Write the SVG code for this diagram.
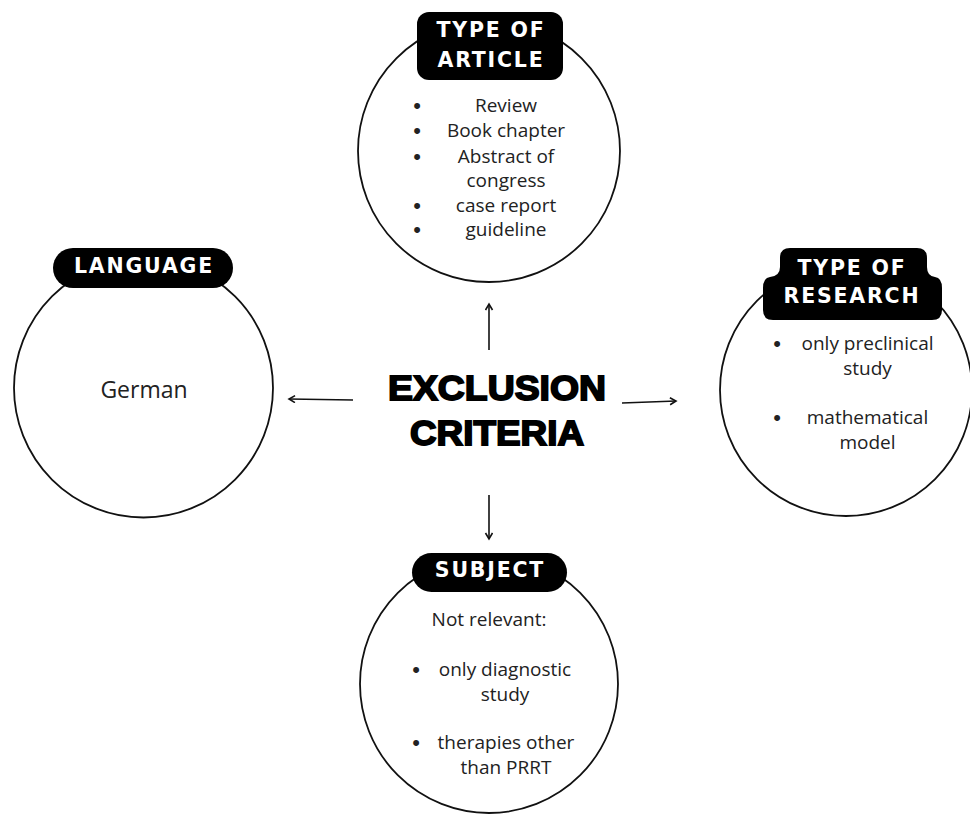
<svg xmlns="http://www.w3.org/2000/svg" width="970" height="814" viewBox="0 0 970 814">
<defs>
<style>
.circ{fill:#fff;stroke:#111;stroke-width:1.8}
.tag{fill:#000}
.tagt{font-family:"DejaVu Sans",sans-serif;font-weight:bold;font-size:20.5px;fill:#fff;letter-spacing:1.8px;text-anchor:middle}
.body{font-family:"Open Sans","Liberation Sans",sans-serif;font-size:19px;fill:#222;text-anchor:middle}
.bul{font-family:"Liberation Sans",Arial,sans-serif;font-size:22px;fill:#222;text-anchor:middle}
.conn{stroke:#111;stroke-width:1.6;fill:none}
.title{font-family:"Liberation Sans",Arial,sans-serif;font-weight:bold;font-size:35px;fill:#000;stroke:#000;stroke-width:1.8;text-anchor:middle}
</style>
<marker id="arr" markerWidth="10" markerHeight="10" refX="7" refY="4" orient="auto" markerUnits="userSpaceOnUse">
<path d="M1,0.5 L7,4 L1,7.5" fill="none" stroke="#111" stroke-width="1.6"/>
</marker>
</defs>
<rect width="970" height="814" fill="#fff"/>

<g id="connectors">
<line class="conn" x1="489" y1="350" x2="489" y2="304" marker-end="url(#arr)"/>
<line class="conn" x1="353" y1="400" x2="289" y2="399" marker-end="url(#arr)"/>
<line class="conn" x1="622" y1="403" x2="676" y2="401" marker-end="url(#arr)"/>
<line class="conn" x1="489" y1="495" x2="489" y2="539" marker-end="url(#arr)"/>
</g>

<g id="center">
<text class="title" x="497" y="400" textLength="218" lengthAdjust="spacingAndGlyphs">EXCLUSION</text>
<text class="title" x="497" y="445" textLength="174" lengthAdjust="spacingAndGlyphs">CRITERIA</text>
</g>

<g id="type-of-article">
<circle class="circ" cx="489" cy="151" r="131"/>
<rect class="tag" x="417" y="12" width="146" height="68" rx="12"/>
<text class="tagt" x="491" y="37">TYPE OF</text>
<text class="tagt" x="491" y="67">ARTICLE</text>
<text class="bul" x="417" y="113">•</text>
<text class="body" x="506" y="112">Review</text>
<text class="bul" x="417" y="138">•</text>
<text class="body" x="506" y="137">Book chapter</text>
<text class="bul" x="417" y="164">•</text>
<text class="body" x="506" y="163">Abstract of</text>
<text class="body" x="506" y="187">congress</text>
<text class="bul" x="417" y="213">•</text>
<text class="body" x="506" y="212">case report</text>
<text class="bul" x="417" y="237">•</text>
<text class="body" x="506" y="236">guideline</text>
</g>

<g id="language">
<circle class="circ" cx="143.5" cy="388" r="129.5"/>
<rect class="tag" x="53" y="248" width="180" height="40" rx="20"/>
<text class="tagt" x="144" y="273">LANGUAGE</text>
<text class="body" x="144" y="398" style="font-size:23px">German</text>
</g>

<g id="type-of-research">
<circle class="circ" cx="846" cy="390" r="126"/>
<path class="tag" d="M790,248 H917 Q927,248 927,258 V267 Q927,276 935,277 Q942,278 942,288 V310 Q942,320 932,320 H773 Q763,320 763,310 V288 Q763,278 770,277 Q780,276 780,267 V258 Q780,248 790,248 Z"/>
<text class="tagt" x="852" y="275">TYPE OF</text>
<text class="tagt" x="852" y="303">RESEARCH</text>
<text class="bul" x="777" y="351">•</text>
<text class="body" x="867.5" y="350">only preclinical</text>
<text class="body" x="867.5" y="375">study</text>
<text class="bul" x="777" y="425">•</text>
<text class="body" x="867.5" y="424">mathematical</text>
<text class="body" x="867.5" y="449">model</text>
</g>

<g id="subject">
<circle class="circ" cx="489" cy="684" r="129"/>
<rect class="tag" x="412" y="553" width="155" height="39" rx="19.5"/>
<text class="tagt" x="490" y="577">SUBJECT</text>
<text class="body" x="489" y="626">Not relevant:</text>
<text class="bul" x="416" y="677">•</text>
<text class="body" x="505" y="676">only diagnostic</text>
<text class="body" x="505" y="701">study</text>
<text class="bul" x="416" y="750">•</text>
<text class="body" x="506" y="749">therapies other</text>
<text class="body" x="506" y="774">than PRRT</text>
</g>
</svg>
